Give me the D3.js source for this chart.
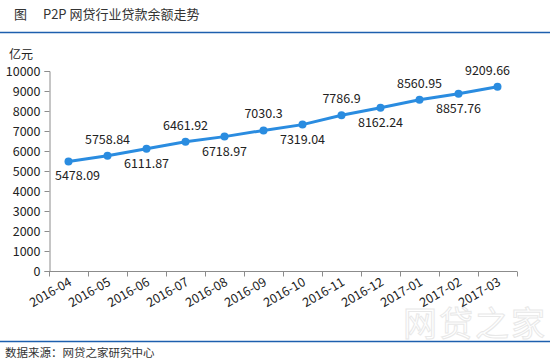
<!DOCTYPE html>
<html>
<head>
<meta charset="utf-8">
<script src="https://cdn.jsdelivr.net/npm/d3@7"></script>
<style>
  body { margin: 0; background: #fff; }
  svg { display: block; font-family: "Noto Sans CJK SC", "Microsoft YaHei", sans-serif; }
</style>
</head>
<body>
<div id="chart"></div>
<script>
// data
const months = ["2016-04", "2016-05", "2016-06", "2016-07", "2016-08", "2016-09",
  "2016-10", "2016-11", "2016-12", "2017-01", "2017-02", "2017-03"];
const balance = [5478.09, 5758.84, 6111.87, 6461.92, 6718.97, 7030.3,
  7319.04, 7786.9, 8162.24, 8560.95, 8857.76, 9209.66];
const yTicks = [0, 1000, 2000, 3000, 4000, 5000, 6000, 7000, 8000, 9000, 10000];

const width = 550, height = 361;
const margin = { left: 49, right: 33, top: 71, bottom: 90 };

const svg = d3.select("#chart").append("svg")
  .attr("width", width)
  .attr("height", height);

// title + rules
svg.append("text")
  .attr("x", 14).attr("y", 19)
  .attr("font-size", 13).attr("fill", "#333")
  .text("图　 P2P 网贷行业贷款余额走势");
svg.append("line")
  .attr("x1", 0).attr("x2", width).attr("y1", 32.5).attr("y2", 32.5)
  .attr("stroke", "#1d5fae").attr("stroke-width", 1.5);
svg.append("line")
  .attr("x1", 0).attr("x2", width).attr("y1", 341.5).attr("y2", 341.5)
  .attr("stroke", "#1d5fae").attr("stroke-width", 1.5);
svg.append("text")
  .attr("x", 5).attr("y", 357)
  .attr("font-size", 11.5).attr("fill", "#333")
  .text("数据来源：网贷之家研究中心");

// watermark
svg.append("text")
  .attr("x", 403).attr("y", 336)
  .attr("font-size", 34).attr("fill", "none")
  .attr("stroke", "#e8e8e8").attr("stroke-width", 1)
  .attr("letter-spacing", 2)
  .text("网贷之家");

// unit label
svg.append("text")
  .attr("x", 9).attr("y", 59)
  .attr("font-size", 12).attr("fill", "#222")
  .text("亿元");

const x = d3.scaleBand()
  .domain(months)
  .range([margin.left, width - margin.right]);

const y = d3.scaleLinear()
  .domain([0, 10000])
  .range([height - margin.bottom, margin.top]);

// y axis
const yAxis = svg.append("g")
  .attr("transform", `translate(${margin.left + 0.5},0)`)
  .call(d3.axisLeft(y).tickValues(yTicks).tickSize(5).tickPadding(4).tickFormat(d3.format("d")));
yAxis.selectAll("path, line").attr("stroke", "#8c8c8c");
yAxis.selectAll("text").attr("font-size", 12.5).attr("fill", "#222")
  .attr("font-family", "'Noto Sans CJK SC', sans-serif");

// x axis, ticks on category boundaries
const base = height - margin.bottom + 0.5;
svg.append("line")
  .attr("x1", margin.left).attr("x2", width - margin.right)
  .attr("y1", base).attr("y2", base)
  .attr("stroke", "#8c8c8c");
svg.append("g")
  .selectAll("line")
  .data(months.concat(["end"]))
  .enter()
  .append("line")
    .attr("x1", (d, i) => Math.round(margin.left + i * x.step()) + 0.5)
    .attr("x2", (d, i) => Math.round(margin.left + i * x.step()) + 0.5)
    .attr("y1", base).attr("y2", base + 5)
    .attr("stroke", "#8c8c8c");
svg.append("g")
  .selectAll("text")
  .data(months)
  .enter()
  .append("text")
    .attr("transform", (d) => `translate(${x(d) + x.bandwidth() / 2 + 4},${base + 13}) rotate(-30)`)
    .attr("text-anchor", "end")
    .attr("font-size", 12.5)
    .attr("fill", "#222")
    .text((d) => d);

// line
const cx = (d, i) => x(months[i]) + x.bandwidth() / 2;
svg.append("path")
  .datum(balance)
  .attr("fill", "none")
  .attr("stroke", "#2a8ce0")
  .attr("stroke-width", 3)
  .attr("d", d3.line().x(cx).y((d) => y(d)));

svg.append("g")
  .selectAll("circle")
  .data(balance)
  .enter()
  .append("circle")
    .attr("cx", cx)
    .attr("cy", (d) => y(d))
    .attr("r", 4)
    .attr("fill", "#2a8ce0");

// labels alternate below / above
const nudge = (i) => (i === 0 ? 9 : i === balance.length - 1 ? -10 : 0);
svg.append("g")
  .selectAll("text")
  .data(balance)
  .enter()
  .append("text")
    .attr("x", (d, i) => cx(d, i) + nudge(i))
    .attr("y", (d, i) => y(d) + (i % 2 === 0 ? 19 : -12))
    .attr("text-anchor", "middle")
    .attr("font-size", 12.5)
    .attr("fill", "#222")
    .text((d) => d);
</script>
</body>
</html>
